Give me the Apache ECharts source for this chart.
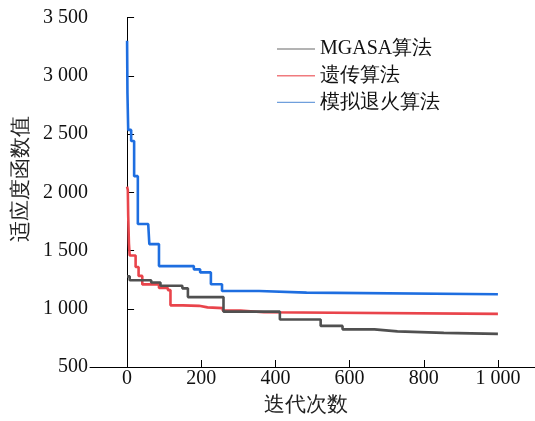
<!DOCTYPE html>
<html>
<head>
<meta charset="utf-8">
<style>html,body{margin:0;padding:0;background:#fff}#c{width:535px;height:421px}
#fl{position:absolute;left:0;top:0;font:19px 'Liberation Serif';color:#fff;opacity:0;pointer-events:none}</style>
<script src="https://cdn.jsdelivr.net/npm/echarts@6/dist/echarts.min.js"></script>
</head>
<body>
<div id="fl">0123456789 MGASA 迭代次数</div>
<div id="c"></div>
<script>
var seriesNames = ['MGASA算法', '遗传算法', '模拟退火算法'];
var xTicks = [0, 200, 400, 600, 800, 1000];
var yTicks = [500, 1000, 1500, 2000, 2500, 3000, 3500];
// [iteration, fitness] : value holds from this iteration until the next point
var mgasa = [[0,1278],[7,1245],[65,1225],[90,1198],[149,1175],[164,1100],[260,975],[412,908],[522,853],[581,823],[667,806],[729,793],[854,784],[1000,782]];
var ga = [[0,2048],[2,2020],[3,1800],[5,1560],[7,1457],[23,1358],[31,1282],[41,1209],[86,1178],[110,1160],[117,1029],[150,1025],[194,1012],[217,1005],[258,984],[306,970],[369,956],[1000,956]];
var sa = [[0,3300],[1,2850],[3,2535],[11,2440],[19,2138],[29,1727],[57,1712],[60,1555],[86,1366],[180,1338],[197,1312],[226,1210],[256,1153],[356,1138],[484,1125],[1000,1125]];

var colors = ['#505050', '#e9444b', '#1e6ee0'];
var legendColors = ['#9a9a9a', '#f07a7e', '#6f9fdc'];
var FONT = "'Liberation Serif', 'Times New Roman', serif";
function fmt(v) {
  var s = String(v);
  return v >= 1000 ? s.slice(0, s.length - 3) + ' ' + s.slice(-3) : s;
}
var datas = [mgasa, ga, sa];
function draw() {
  var chart = echarts.init(document.getElementById('c'), null, {renderer: 'canvas'});
  chart.setOption({
    animation: false,
    backgroundColor: '#fff',
    textStyle: {fontFamily: FONT},
    grid: {left: 90, top: 17.5, width: 445, height: 355.8, containLabel: false},
    legend: {
      orient: 'vertical', left: 272, top: 34,
      itemWidth: 38, itemHeight: 1.4, itemGap: 6.7,
      textStyle: {fontFamily: FONT, fontSize: 20, color: '#111', lineHeight: 20, padding: [0,0,0,0]},
      data: seriesNames.map(function (n, i) {
        return {name: n, icon: 'rect', itemStyle: {color: legendColors[i], borderWidth: 0},
                lineStyle: {color: legendColors[i], width: 1.3}};
      })
    },
    xAxis: {
      type: 'value', min: -100, max: 1100,
      name: '迭代次数', nameLocation: 'middle', nameGap: 28,
      nameTextStyle: {fontFamily: FONT, fontSize: 21, color: '#222', padding: [0, 14, 0, 0]},
      axisLine: {show: true, lineStyle: {color: '#000', width: 1}},
      axisTick: {show: true, inside: true, length: 7, lineStyle: {color: '#000'}, customValues: xTicks},
      axisLabel: {customValues: xTicks, formatter: fmt, fontFamily: FONT, fontSize: 20, color: '#111', margin: 2},
      splitLine: {show: false}
    },
    yAxis: {
      type: 'value', min: 500, max: 3500, interval: 500,
      name: '适应度函数值', nameLocation: 'middle', nameGap: 46,
      nameTextStyle: {fontFamily: FONT, fontSize: 21, color: '#222', padding: [0, 0, 0, 26]},
      axisLine: {show: true, lineStyle: {color: '#000', width: 1}},
      axisTick: {show: true, inside: true, length: 7, lineStyle: {color: '#000'}},
      axisLabel: {formatter: fmt, fontFamily: FONT, fontSize: 20, color: '#111', margin: 2},
      splitLine: {show: false}
    },
    series: seriesNames.map(function (n, i) {
      return {
        name: n, type: 'line', step: 'end', data: datas[i], symbol: 'none',
        lineStyle: {color: colors[i], width: 2.6}, itemStyle: {color: colors[i]}, z: 2 + (i === 0 ? 1 : 0)
      };
    })
  });
}
if (document.fonts && document.fonts.load) {
  document.fonts.load("19px 'Liberation Serif'").then(draw, draw);
} else { draw(); }
</script>
</body>
</html>
